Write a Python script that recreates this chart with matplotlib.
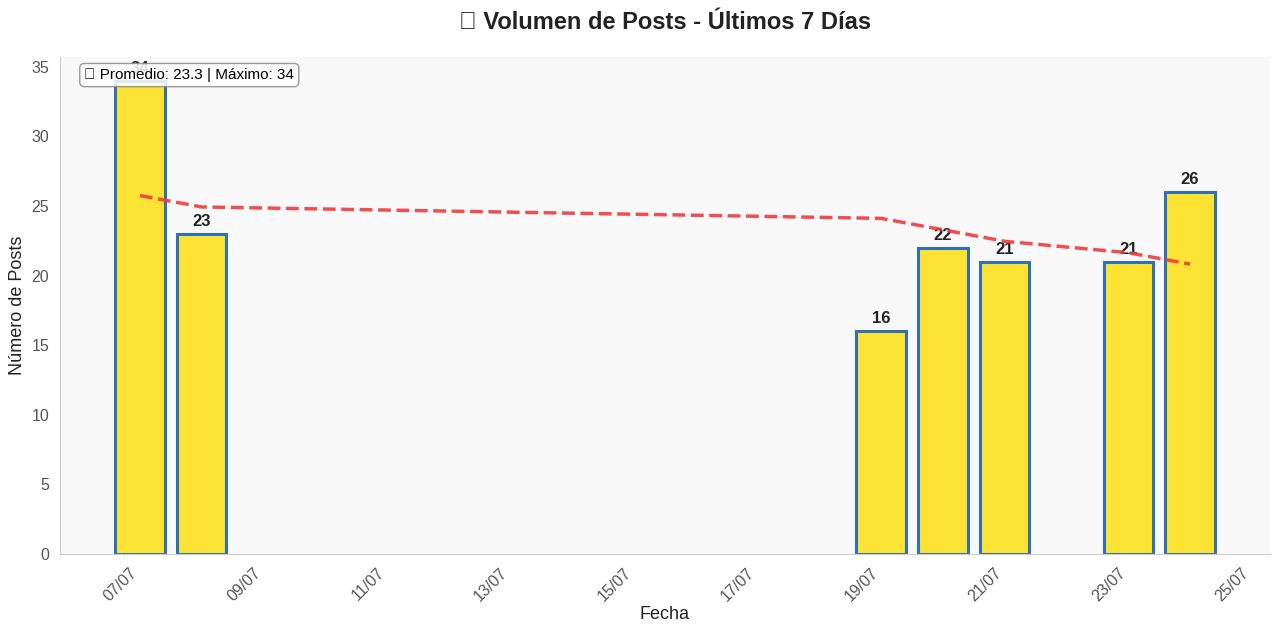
import matplotlib
matplotlib.use("Agg")
import matplotlib.pyplot as plt
import matplotlib.dates as mdates
import pandas as pd

# posts per day (days with no posts are simply absent)
dates = ["2025-07-07", "2025-07-08", "2025-07-19", "2025-07-20",
         "2025-07-21", "2025-07-23", "2025-07-24"]
posts = [34, 23, 16, 22, 21, 21, 26]
trend = [25.75, 24.93, 24.11, 23.29, 22.46, 21.64, 20.82]

plt.rcParams["font.family"] = ["Liberation Sans", "DejaVu Sans"]

x = pd.to_datetime(dates)
fig, ax = plt.subplots(figsize=(12.8, 6.35), dpi=100)
fig.subplots_adjust(left=0.047, right=0.992, bottom=0.128, top=0.91)
ax.set_facecolor("#f9f9f9")

bars = ax.bar(x, posts, width=0.8, color="#fde333", edgecolor="#3070b4", linewidth=2.2, zorder=2)
for b, v in zip(bars, posts):
    ax.text(b.get_x() + b.get_width() / 2, v + 0.35, str(v), ha="center", va="bottom",
            fontsize=12, fontweight="bold", color="#222222", zorder=3)

ax.plot(x, trend, ls="--", lw=2.5, color="#f03c3c", alpha=0.9, zorder=4)

ax.set_ylim(0, 35.7)
ax.set_yticks(range(0, 36, 5))
ax.xaxis.set_major_locator(mdates.DayLocator(bymonthday=range(1, 32, 2)))
ax.xaxis.set_major_formatter(mdates.DateFormatter("%d/%m"))
plt.setp(ax.get_xticklabels(), rotation=45, ha="right")
ax.tick_params(labelsize=11.5, colors="#555555", length=0, pad=8)

for s in ("top", "right"):
    ax.spines[s].set_visible(False)
for s in ("left", "bottom"):
    ax.spines[s].set_color("#cccccc")

ax.set_xlabel("Fecha", fontsize=13, color="#222222", labelpad=2)
ax.set_ylabel("Número de Posts", fontsize=13, color="#222222")
ax.set_title("\U0001F4CA Volumen de Posts - Últimos 7 Días", fontsize=17,
             fontweight="bold", color="#222222", pad=20)

avg = sum(posts) / len(posts)
ax.text(0.02, 0.978, f"\U0001F4C8 Promedio: {avg:.1f} | Máximo: {max(posts)}",
        transform=ax.transAxes, ha="left", va="top", fontsize=11, zorder=5,
        bbox=dict(boxstyle="round,pad=0.3", facecolor="white", edgecolor="#888888", alpha=0.85))

fig.savefig("out.png")
